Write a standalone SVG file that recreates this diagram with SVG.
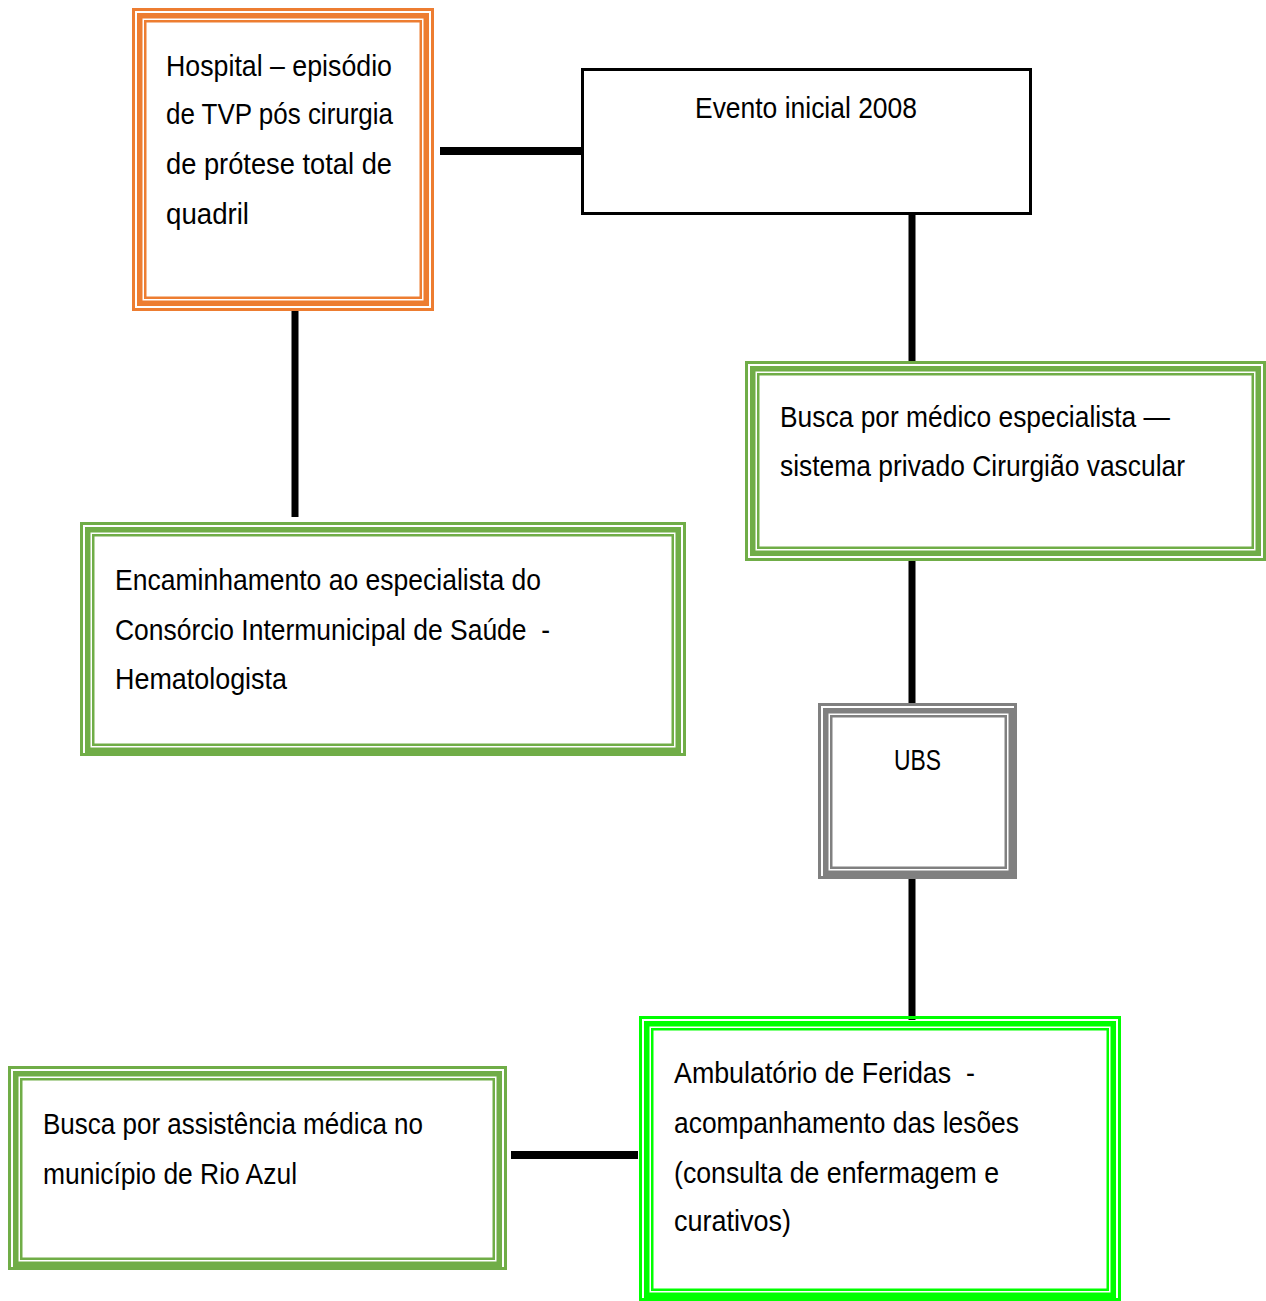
<svg xmlns="http://www.w3.org/2000/svg" width="1266" height="1301" viewBox="0 0 1266 1301">
<style>
rect{fill:none}
.o{stroke:#ED7D31}
.g{stroke:#70AD47}
.y{stroke:#808080}
.b{stroke:#00FF00}
.t1{stroke-width:3}
.t2{stroke-width:5.5}
.t3{stroke-width:2.5}
text{font-family:"Liberation Sans",Arial,sans-serif;font-size:29px;fill:#000;white-space:pre}
.c{stroke:#000;fill:none}
</style>
<rect width="1266" height="1301" fill="#fff" style="fill:#fff"/>
<g id="connectors">
<line class="c" x1="440" y1="151" x2="582" y2="151" stroke-width="8"/>
<line class="c" x1="295" y1="311" x2="295" y2="517" stroke-width="7"/>
<line class="c" x1="912" y1="213" x2="912" y2="362" stroke-width="7"/>
<line class="c" x1="912" y1="561" x2="912" y2="706" stroke-width="7"/>
<line class="c" x1="912" y1="879" x2="912" y2="1020" stroke-width="7"/>
<line class="c" x1="511" y1="1155" x2="638" y2="1155" stroke-width="8"/>
</g>
<g id="hospital">
<rect class="o t1" x="133.5" y="9.5" width="299" height="300"/>
<rect class="o t2" x="139.75" y="15.75" width="286.5" height="287.5"/>
<rect class="o t3" x="145.25" y="21.25" width="275.5" height="276.5"/>
<text x="166" y="76" textLength="226" lengthAdjust="spacingAndGlyphs">Hospital – episódio</text>
<text x="166" y="124" textLength="227" lengthAdjust="spacingAndGlyphs">de TVP pós cirurgia</text>
<text x="166" y="174" textLength="226" lengthAdjust="spacingAndGlyphs">de prótese total de</text>
<text x="166" y="224" textLength="83" lengthAdjust="spacingAndGlyphs">quadril</text>
</g>
<g id="evento">
<rect x="582.5" y="69.5" width="448" height="144" stroke="#000" stroke-width="3"/>
<text x="695" y="118" textLength="222" lengthAdjust="spacingAndGlyphs">Evento inicial 2008</text>
</g>
<g id="busca-especialista">
<rect class="g t1" x="746.5" y="362.5" width="518" height="197"/>
<rect class="g t2" x="752.75" y="368.75" width="505.5" height="184.5"/>
<rect class="g t3" x="758.25" y="374.25" width="494.5" height="173.5"/>
<text x="780" y="427" textLength="390" lengthAdjust="spacingAndGlyphs">Busca por médico especialista —</text>
<text x="780" y="476" textLength="405" lengthAdjust="spacingAndGlyphs">sistema privado Cirurgião vascular</text>
</g>
<g id="encaminhamento">
<rect class="g t1" x="81.5" y="523.5" width="603" height="231"/>
<rect class="g t2" x="87.75" y="529.75" width="590.5" height="220.5"/>
<rect class="g t3" x="93.25" y="535.25" width="579.5" height="209.5"/>
<text x="115" y="590" textLength="426" lengthAdjust="spacingAndGlyphs">Encaminhamento ao especialista do</text>
<text x="115" y="640" textLength="435" lengthAdjust="spacingAndGlyphs">Consórcio Intermunicipal de Saúde  -</text>
<text x="115" y="689" textLength="172" lengthAdjust="spacingAndGlyphs">Hematologista</text>
</g>
<g id="ubs">
<rect class="y t1" x="819.5" y="704.5" width="196" height="173"/>
<rect class="y t2" x="825.75" y="710.75" width="185.5" height="162.5"/>
<rect class="y t3" x="831.25" y="716.25" width="174.5" height="151.5"/>
<text x="894" y="770" textLength="47" lengthAdjust="spacingAndGlyphs">UBS</text>
</g>
<g id="ambulatorio">
<rect class="b t1" x="640.5" y="1017.5" width="479" height="282"/>
<rect class="b t2" x="646.75" y="1023.75" width="466.5" height="271.5"/>
<rect class="b t3" x="652.25" y="1029.25" width="455.5" height="260.5"/>
<text x="674" y="1083" textLength="301" lengthAdjust="spacingAndGlyphs">Ambulatório de Feridas  -</text>
<text x="674" y="1133" textLength="345" lengthAdjust="spacingAndGlyphs">acompanhamento das lesões</text>
<text x="674" y="1183" textLength="325" lengthAdjust="spacingAndGlyphs">(consulta de enfermagem e</text>
<text x="674" y="1231" textLength="117" lengthAdjust="spacingAndGlyphs">curativos)</text>
</g>
<g id="busca-assistencia">
<rect class="g t1" x="9.5" y="1067.5" width="496" height="201"/>
<rect class="g t2" x="15.75" y="1073.75" width="483.5" height="190.5"/>
<rect class="g t3" x="21.25" y="1079.25" width="472.5" height="179.5"/>
<text x="43" y="1134" textLength="380" lengthAdjust="spacingAndGlyphs">Busca por assistência médica no</text>
<text x="43" y="1184" textLength="254" lengthAdjust="spacingAndGlyphs">município de Rio Azul</text>
</g>
</svg>
